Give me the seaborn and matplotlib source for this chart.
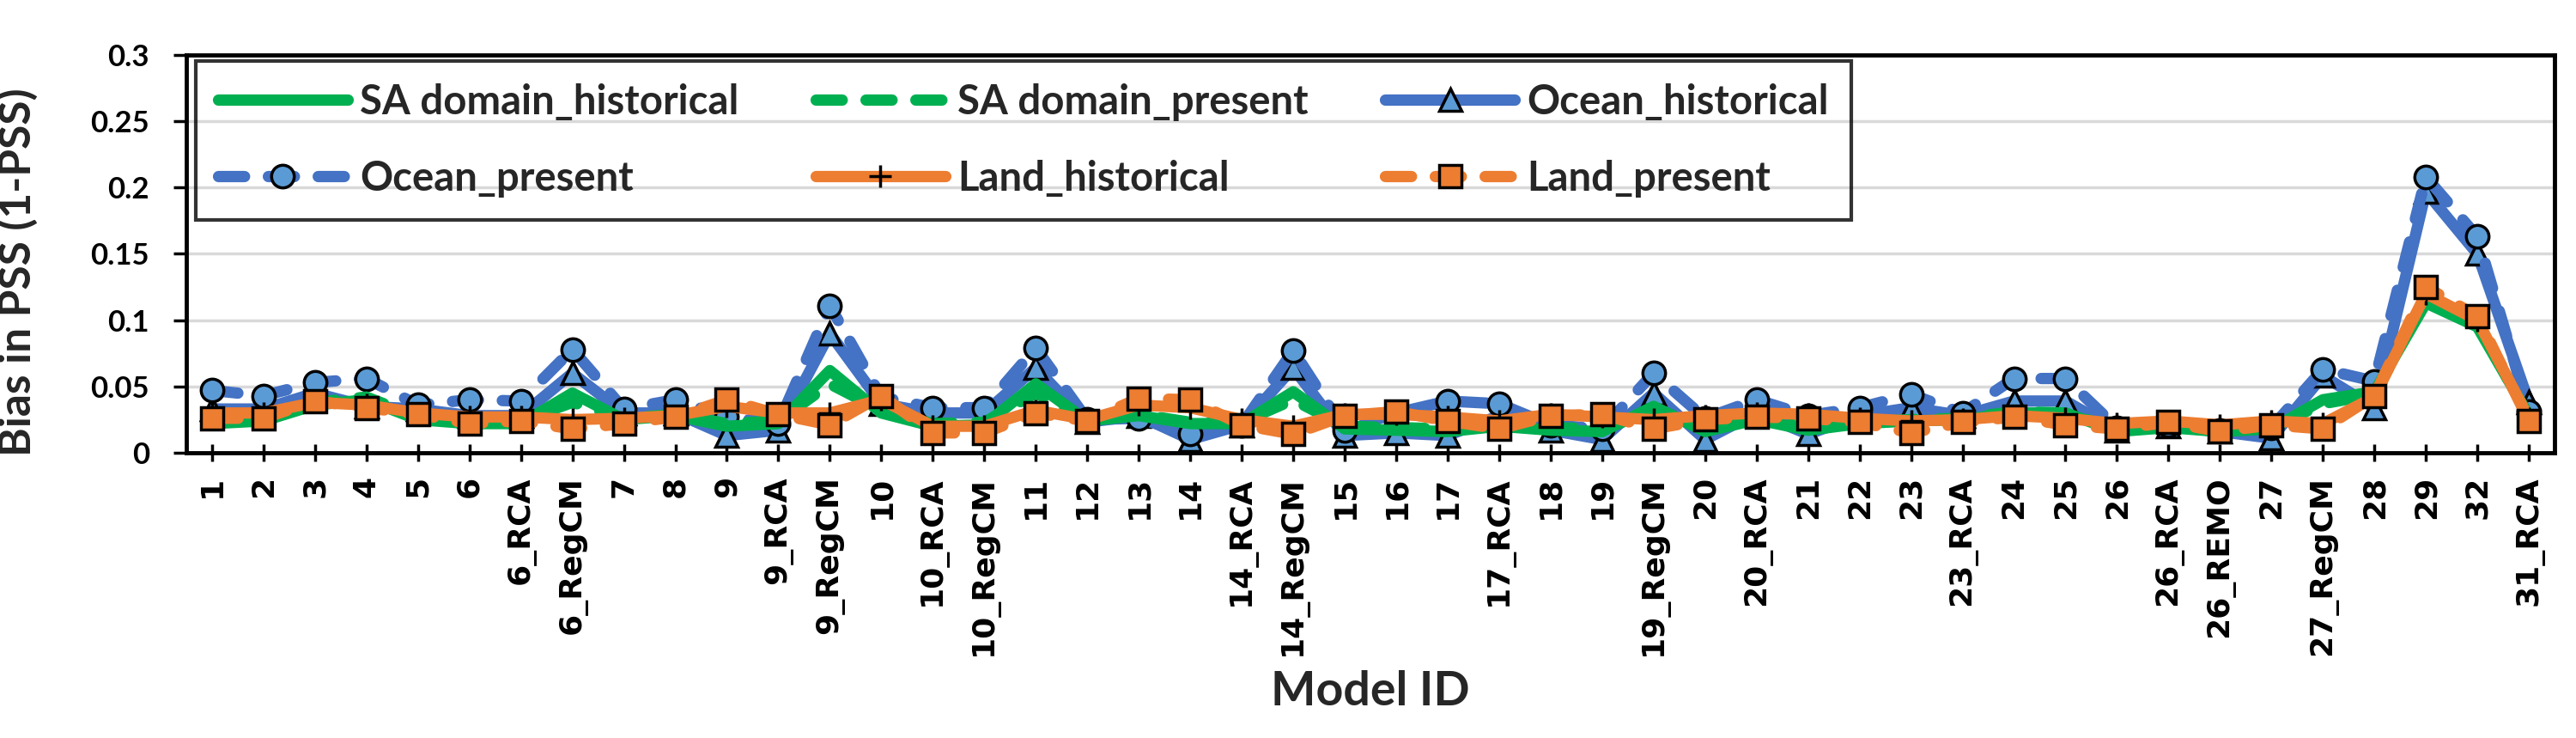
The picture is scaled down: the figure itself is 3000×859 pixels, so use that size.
import numpy as np
import matplotlib
matplotlib.use("Agg")
import matplotlib.pyplot as plt
import seaborn as sns

models = ["1", "2", "3", "4", "5", "6", "6_RCA", "6_RegCM", "7", "8", "9", "9_RCA",
          "9_RegCM", "10", "10_RCA", "10_RegCM", "11", "12", "13", "14", "14_RCA",
          "14_RegCM", "15", "16", "17", "17_RCA", "18", "19", "19_RegCM", "20",
          "20_RCA", "21", "22", "23", "23_RCA", "24", "25", "26", "26_RCA", "26_REMO",
          "27", "27_RegCM", "28", "29", "32", "31_RCA"]

sa_hist = [0.022, 0.024, 0.036, 0.040, 0.025, 0.022, 0.022, 0.045, 0.025, 0.028,
           0.020, 0.022, 0.062, 0.030, 0.020, 0.021, 0.052, 0.024, 0.028, 0.022,
           0.022, 0.046, 0.018, 0.017, 0.016, 0.020, 0.017, 0.016, 0.035, 0.016,
           0.025, 0.017, 0.022, 0.024, 0.025, 0.030, 0.030, 0.016, 0.019, 0.016,
           0.018, 0.040, 0.046, 0.113, 0.095, 0.028]
sa_present = [0.024, 0.026, 0.038, 0.042, 0.027, 0.024, 0.024, 0.038, 0.026, 0.029,
              0.022, 0.024, 0.052, 0.032, 0.022, 0.023, 0.045, 0.025, 0.029, 0.023,
              0.023, 0.040, 0.020, 0.019, 0.018, 0.021, 0.019, 0.018, 0.031, 0.018,
              0.026, 0.019, 0.023, 0.025, 0.026, 0.031, 0.030, 0.018, 0.020, 0.017,
              0.019, 0.037, 0.044, 0.116, 0.097, 0.027]
ocean_hist = [0.033, 0.033, 0.045, 0.035, 0.033, 0.028, 0.028, 0.060, 0.030, 0.030,
              0.013, 0.017, 0.090, 0.037, 0.030, 0.030, 0.064, 0.023, 0.028, 0.010,
              0.021, 0.064, 0.013, 0.015, 0.013, 0.028, 0.017, 0.010, 0.045, 0.010,
              0.030, 0.014, 0.028, 0.034, 0.028, 0.039, 0.039, 0.017, 0.020, 0.016,
              0.011, 0.058, 0.034, 0.197, 0.150, 0.038]
ocean_present = [0.047, 0.043, 0.053, 0.056, 0.036, 0.040, 0.039, 0.078, 0.033, 0.040,
                 0.027, 0.022, 0.111, 0.042, 0.034, 0.034, 0.079, 0.025, 0.026, 0.014,
                 0.021, 0.077, 0.017, 0.030, 0.039, 0.037, 0.021, 0.018, 0.060, 0.026,
                 0.040, 0.028, 0.034, 0.044, 0.030, 0.056, 0.056, 0.019, 0.021, 0.017,
                 0.019, 0.063, 0.054, 0.208, 0.163, 0.031]
land_hist = [0.030, 0.030, 0.038, 0.036, 0.030, 0.027, 0.027, 0.025, 0.026, 0.028,
             0.035, 0.030, 0.030, 0.040, 0.020, 0.020, 0.032, 0.025, 0.036, 0.034,
             0.025, 0.020, 0.029, 0.029, 0.027, 0.024, 0.029, 0.027, 0.025, 0.028,
             0.030, 0.029, 0.026, 0.024, 0.025, 0.028, 0.026, 0.022, 0.024, 0.021,
             0.024, 0.022, 0.042, 0.120, 0.100, 0.026]
land_present = [0.026, 0.026, 0.039, 0.034, 0.029, 0.022, 0.024, 0.018, 0.022, 0.027,
                0.040, 0.029, 0.021, 0.043, 0.015, 0.015, 0.030, 0.024, 0.041, 0.040,
                0.021, 0.014, 0.028, 0.031, 0.024, 0.018, 0.028, 0.029, 0.018, 0.025,
                0.027, 0.026, 0.023, 0.015, 0.023, 0.027, 0.021, 0.018, 0.023, 0.016,
                0.021, 0.018, 0.043, 0.125, 0.103, 0.024]

yticks = [0, 0.05, 0.1, 0.15, 0.2, 0.25, 0.3]

green = "#00B050"
blue = "#4472C4"
lightblue = "#5B9BD5"
orange = "#ED7D31"

sns.set_style("white")
plt.rcParams['font.family'] = ['Lato', 'DejaVu Sans']
plt.rcParams['font.weight'] = 'bold'

fig = plt.figure(figsize=(30, 8.59), dpi=100)
ax = fig.add_axes([0.0723, 0.3865, 0.9194, 0.539])

x = np.arange(len(models))
lw = 9.5
ms = 19

# drawing order: ocean first, then SA domain, land on top
specs = [
    ("Ocean_historical", ocean_hist, blue, False, dict(marker="^", markersize=ms, mfc=lightblue, mec="black", mew=2.5), 3),
    ("Ocean_present", ocean_present, blue, True, dict(marker="o", markersize=ms, mfc=lightblue, mec="black", mew=2.5), 4),
    ("SA domain_historical", sa_hist, green, False, dict(marker=None), 5),
    ("SA domain_present", sa_present, green, True, dict(marker=None), 6),
    ("Land_historical", land_hist, orange, False, dict(marker="+", markersize=ms, mfc="black", mec="black", mew=2.5), 7),
    ("Land_present", land_present, orange, True, dict(marker="s", markersize=ms, mfc=orange, mec="black", mew=2.5), 8),
]

handles = {}
for label, vals, col, dashed, mk, z in specs:
    sns.lineplot(x=x, y=vals, ax=ax, color=col, linewidth=lw, label=label,
                 solid_capstyle="round", dash_capstyle="round",
                 solid_joinstyle="round", dash_joinstyle="round", zorder=z, **mk)
    line = ax.lines[-1]
    if dashed:
        line.set_dashes((2.3, 2.1))
    handles[label] = line

ax.set_xlim(-0.5, len(models) - 0.5)
ax.set_ylim(0, 0.3)
ax.set_xticks(x)
ax.set_xticklabels(models, rotation=90)
ax.set_yticks(yticks)
ax.set_yticklabels([f"{v:g}" for v in yticks])

ax.yaxis.grid(True, color="#d9d9d9", linewidth=2.5)
ax.xaxis.grid(False)
ax.set_axisbelow(True)

for sp in ax.spines.values():
    sp.set_visible(True)
    sp.set_color("black")
    sp.set_linewidth(3.5)

ax.tick_params(axis="x", direction="inout", length=15, width=2.5, pad=12,
               labelsize=26, colors="black", bottom=True)
ax.tick_params(axis="y", direction="out", length=11, width=2.5, pad=20,
               labelsize=25, colors="black", left=True)
for lbl in ax.get_xticklabels():
    lbl.set_fontfamily("DejaVu Sans")
    lbl.set_fontweight("bold")

ax.set_xlabel("Model ID", fontsize=40, fontweight="bold", labelpad=12)
ax.set_ylabel("Bias in PSS (1-PSS)", fontsize=37, fontweight="bold")
ax.yaxis.set_label_coords(-0.0624, 0.455)

order = ["SA domain_historical", "Ocean_present", "SA domain_present",
         "Land_historical", "Ocean_historical", "Land_present"]
leg = ax.legend([handles[k] for k in order], order, ncol=3, loc="upper left",
                bbox_to_anchor=(0.004, 0.583, 0.699, 0.402), mode="expand",
                fontsize=34, frameon=True, fancybox=False, handlelength=3.2,
                handletextpad=0.3, borderpad=0.55, labelspacing=0.95,
                borderaxespad=0, numpoints=1)
leg.get_frame().set_edgecolor("black")
leg.get_frame().set_linewidth(3)
leg.get_frame().set_facecolor("none")
leg.set_zorder(10)

fig.savefig("out.png", dpi=100)
